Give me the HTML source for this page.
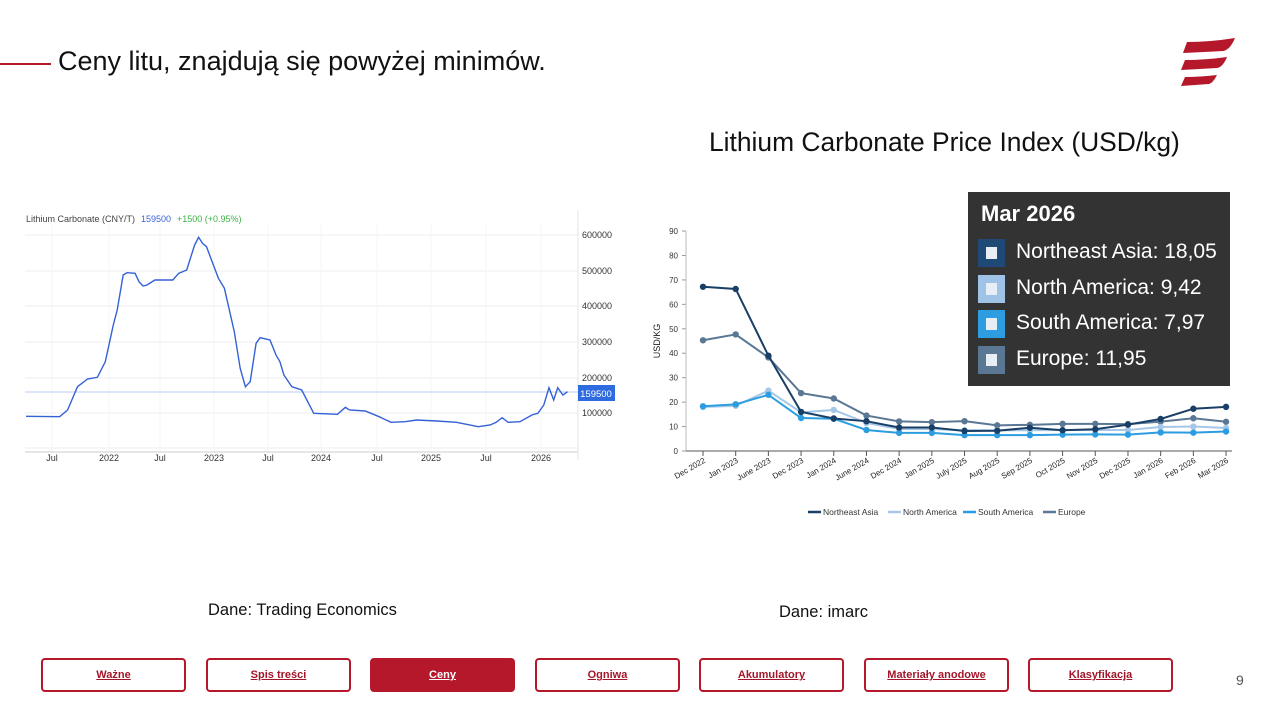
<!DOCTYPE html>
<html><head><meta charset="utf-8"><style>
body{margin:0;width:1275px;height:715px;background:#fff;position:relative;overflow:hidden;font-family:"Liberation Sans",sans-serif}
.abs{position:absolute}
.btn{position:absolute;top:658px;width:145px;height:34px;border:2px solid #b5182b;border-radius:4px;box-sizing:border-box;text-align:center;line-height:30px;font-size:11px;font-weight:bold;color:#a3162a;text-decoration:underline;font-family:"Liberation Sans","Noto Sans CJK SC",sans-serif}
.btn.on{background:#b5182b;color:#fff}
</style></head><body>
<div class="abs" style="left:0;top:63px;width:51px;height:1.5px;background:#b5182b"></div>
<div class="abs" style="left:58px;top:46px;font-size:27px;color:#111;font-family:'Liberation Sans','Noto Sans CJK SC',sans-serif">Ceny litu, znajdują się powyżej minimów.</div>
<svg class="abs" style="left:1175px;top:36px" width="65" height="52" viewBox="0 0 65 52">
<path d="M12 6 Q35 6 60 2 Q55 14 48 15 Q30 16 8 17 Z" fill="#b5182b"/>
<path d="M10 24 Q30 24 52 21 Q48 31 42 32 Q25 33 6 34 Z" fill="#b5182b"/>
<path d="M10 41 Q25 41 42 39 Q38 47 34 48 Q20 49 6 50 Z" fill="#b5182b"/>
</svg>
<div class="abs" style="left:709px;top:127px;font-size:26.4px;color:#111">Lithium Carbonate Price Index (USD/kg)</div>
<div class="abs" style="left:208px;top:601px;font-size:16.5px;color:#111">Dane: Trading Economics</div>
<div class="abs" style="left:779px;top:603px;font-size:16.5px;color:#111">Dane: imarc</div>
<div class="abs" style="left:1236px;top:672px;font-size:14px;color:#555">9</div>

<svg id="left" class="abs" style="left:0;top:0" width="640" height="480"></svg>
<svg id="right" class="abs" style="left:0;top:0" width="1275" height="530"></svg>

<div class="abs" style="left:968px;top:192px;width:262px;height:194px;background:#333"></div>
<div class="abs" style="left:981px;top:201px;font-size:22px;font-weight:bold;color:#fff">Mar 2026</div>
<div id="tt"></div>

<div class="btn" style="left:41px">Ważne</div>
<div class="btn" style="left:206px">Spis treści</div>
<div class="btn on" style="left:370px">Ceny</div>
<div class="btn" style="left:535px">Ogniwa</div>
<div class="btn" style="left:699px">Akumulatory</div>
<div class="btn" style="left:864px">Materiały anodowe</div>
<div class="btn" style="left:1028px">Klasyfikacja</div>

<script>
var ns="http://www.w3.org/2000/svg";
function el(svg,tag,a,txt){var e=document.createElementNS(ns,tag);for(var k in a)e.setAttribute(k,a[k]);if(txt!=null)e.textContent=txt;svg.appendChild(e);return e;}
var L=document.getElementById('left');
el(L,'text',{x:26,y:222,'font-size':9,fill:'#444'},'Lithium Carbonate (CNY/T)');
el(L,'text',{x:141,y:222,'font-size':9,fill:'#3a63d8'},'159500');
el(L,'text',{x:177,y:222,'font-size':9,fill:'#3cb043'},'+1500 (+0.95%)');
var gy=[235,271,306,342,378,413,448],gl=['600000','500000','400000','300000','200000','100000',''];
gy.forEach(function(y,i){el(L,'line',{x1:25,x2:578,y1:y,y2:y,stroke:'#eceef2'});if(gl[i])el(L,'text',{x:582,y:y+3,'font-size':9,fill:'#333'},gl[i]);});
var xs=[[52,'Jul'],[109,'2022'],[160,'Jul'],[214,'2023'],[268,'Jul'],[321,'2024'],[377,'Jul'],[431,'2025'],[486,'Jul'],[541,'2026']];
xs.forEach(function(p){el(L,'line',{x1:p[0],x2:p[0],y1:225,y2:452,stroke:'#f4f5f7'});el(L,'text',{x:p[0],y:461,'font-size':9,fill:'#333','text-anchor':'middle'},p[1]);});
el(L,'line',{x1:25,x2:578,y1:452,y2:452,stroke:'#ccc'});
el(L,'line',{x1:578,x2:578,y1:210,y2:460,stroke:'#e5e5e5'});
el(L,'line',{x1:25,x2:578,y1:392,y2:392,stroke:'#b8cdf0'});
var z=[[15,634],[100,635],[120,615],[145,545],[170,522],[195,517],[215,470],[235,360],[245,315],[260,210],[270,203],[290,205],[300,230],[310,243],[320,240],[340,225],[385,225],[400,205],[420,195],[440,120],[450,97],[460,115],[470,125],[500,220],[515,250],[540,380],[555,490],[568,545],[580,530],[595,415],[605,398],[630,405],[645,450],[655,470],[665,510],[685,545],[710,555],[740,625],[800,628],[820,607],[830,615],[870,618],[905,635],[935,652],[970,650],[1000,645],[1050,648],[1100,652],[1155,665],[1185,660],[1200,652],[1215,638],[1230,652],[1260,650],[1290,630],[1305,625],[1320,600],[1333,548],[1345,585],[1355,548],[1368,570],[1380,560]];
el(L,'polyline',{points:z.map(function(p){return (20+p[0]/2.52).toFixed(1)+','+(205+p[1]/3).toFixed(1)}).join(' '),fill:'none',stroke:'#3461d6','stroke-width':1.4});
el(L,'rect',{x:578,y:385,width:37,height:16,fill:'#2f6be0'});
el(L,'text',{x:596,y:397,'font-size':9.5,fill:'#fff','text-anchor':'middle'},'159500');
var R=document.getElementById('right');
function Y(v){return 451-v*2.444}
for(var v=0;v<=90;v+=10){el(R,'text',{x:678,y:Y(v)+3,'font-size':8,fill:'#333','text-anchor':'end'},v);el(R,'line',{x1:682,x2:686,y1:Y(v),y2:Y(v),stroke:'#999'});}
el(R,'line',{x1:686,x2:686,y1:231,y2:451,stroke:'#bbb'});
el(R,'line',{x1:686,x2:1232,y1:451,y2:451,stroke:'#555'});
el(R,'text',{x:660,y:341,'font-size':9,fill:'#222','text-anchor':'middle',transform:'rotate(-90 660 341)'},'USD/KG');
var lab=['Dec 2022','Jan 2023','June 2023','Dec 2023','Jan 2024','June 2024','Dec 2024','Jan 2025','July 2025','Aug 2025','Sep 2025','Oct 2025','Nov 2025','Dec 2025','Jan 2026','Feb 2026','Mar 2026'];
function X(i){return 703+i*32.69}
lab.forEach(function(t,i){el(R,'line',{x1:X(i),x2:X(i),y1:451,y2:456,stroke:'#555'});el(R,'text',{x:X(i)+3,y:462,'font-size':8,fill:'#222','text-anchor':'end',transform:'rotate(-30 '+(X(i)+3)+' 462)'},t);});
var S=[
['#5a7794',[45.3,47.7,38.3,23.7,21.5,14.5,12.1,11.8,12.2,10.5,10.7,11.1,11.1,11,12,13.4,11.95]],
['#a6c8e8',[18,18.5,24.7,15.8,16.8,11.5,9,9,8.5,8.5,8.5,8.6,8.6,8.6,9.8,10,9.42]],
['#2b9de0',[18.3,19.1,23,13.5,13.2,8.6,7.4,7.4,6.5,6.5,6.5,6.7,6.8,6.7,7.6,7.5,7.97]],
['#1a3f66',[67.2,66.3,39,16,13.3,12.2,9.6,9.6,8.2,8.3,9.5,8.5,8.9,10.8,13.1,17.3,18.05]]];
S.forEach(function(s){el(R,'polyline',{points:s[1].map(function(v,i){return X(i)+','+Y(v)}).join(' '),fill:'none',stroke:s[0],'stroke-width':2});s[1].forEach(function(v,i){el(R,'circle',{cx:X(i),cy:Y(v),r:3.2,fill:s[0]});});});
var lg=[['#1a3f66','Northeast Asia',808],['#a6c8e8','North America',888],['#2b9de0','South America',963],['#5a7794','Europe',1043]];
lg.forEach(function(l){el(R,'line',{x1:l[2],x2:l[2]+13,y1:512,y2:512,stroke:l[0],'stroke-width':2.5});el(R,'text',{x:l[2]+15,y:515,'font-size':8.5,fill:'#333'},l[1]);});
var tt=[['#1f4a78','Northeast Asia: 18,05',253],['#9fc3e6','North America: 9,42',289],['#2b9de0','South America: 7,97',324],['#5a7794','Europe: 11,95',360]];
var h='';tt.forEach(function(t){h+='<div class="abs" style="left:978px;top:'+(t[2]-14)+'px;width:27px;height:28px;background:'+t[0]+'"><div style="margin:8px;width:11px;height:12px;background:#e8eef5"></div></div><div class="abs" style="left:1016px;top:'+(t[2]-13)+'px;font-size:21px;color:#fff">'+t[1]+'</div>';});
document.getElementById('tt').innerHTML=h;
</script>
</body></html>
